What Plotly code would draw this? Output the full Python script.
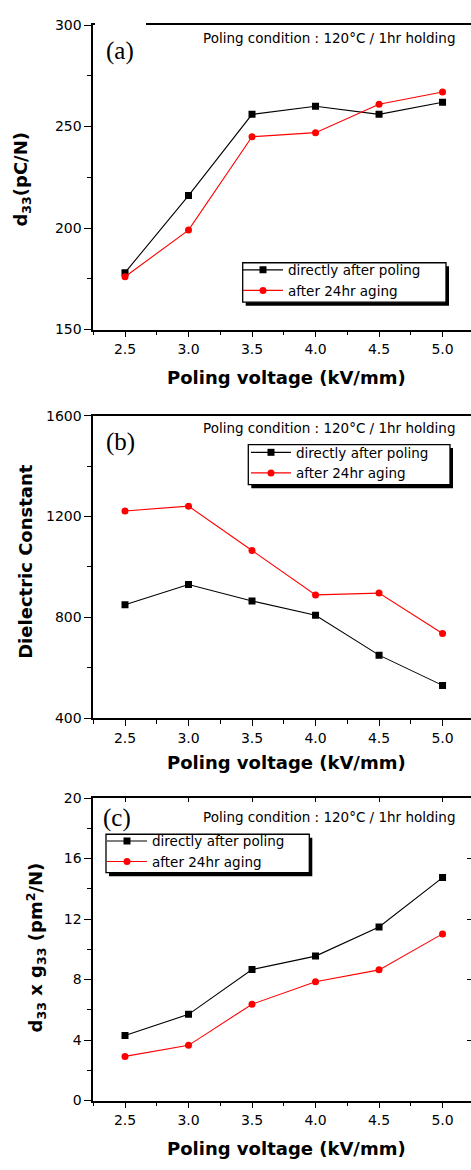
import plotly.graph_objects as go

# Poling voltage (kV/mm)
voltage = [2.5, 3.0, 3.5, 4.0, 4.5, 5.0]

# (a) piezoelectric coefficient d33 (pC/N)
d33_direct = [178, 216, 256, 260, 256, 262]
d33_aged = [176, 199, 245, 247, 261, 267]

# (b) dielectric constant
eps_direct = [850, 930, 865, 808, 650, 530]
eps_aged = [1222, 1241, 1065, 889, 896, 736]

# (c) figure of merit d33 x g33 (pm^2/N)
fom_direct = [4.30, 5.70, 8.66, 9.55, 11.48, 14.74]
fom_aged = [2.92, 3.65, 6.37, 7.85, 8.64, 11.02]

series_names = ["directly after poling", "after 24hr aging"]
panel_tags = ["(a)", "(b)", "(c)"]
condition_text = "Poling condition : 120\u00b0C / 1hr holding"
x_title = "Poling voltage (kV/mm)"
y_titles = ["d<sub>33</sub>(pC/N)", "Dielectric Constant",
            "d<sub>33</sub> x g<sub>33</sub> (pm<sup>2</sup>/N)"]
y_ranges = [[150, 300], [400, 1600], [0, 20]]
y_dticks = [50, 400, 4]

W, H = 471, 1170
SANS = "DejaVu Sans"


def px_x(p):
    return p / W


def px_y(p):
    return 1 - p / H


# plot-area boxes in pixels: (top, bottom)
boxes = [(17.3, 326.0), (413.3, 720.0), (801.0, 1107.7)]
x_left = 93.25
x_range = [2.25, 5.224]

fig = go.Figure()

datasets = [(d33_direct, d33_aged), (eps_direct, eps_aged), (fom_direct, fom_aged)]
legend_ids = ["legend", "legend2", "legend3"]
for i, (direct, aged) in enumerate(datasets):
    ax = "" if i == 0 else str(i + 1)
    fig.add_trace(go.Scatter(
        x=voltage, y=direct, name=series_names[0], mode="lines+markers",
        line=dict(color="black", width=1.1),
        marker=dict(symbol="square", size=7, color="black"),
        xaxis="x" + ax, yaxis="y" + ax, legend=legend_ids[i]))
    fig.add_trace(go.Scatter(
        x=voltage, y=aged, name=series_names[1], mode="lines+markers",
        line=dict(color="red", width=1.1),
        marker=dict(symbol="circle", size=7, color="red"),
        xaxis="x" + ax, yaxis="y" + ax, legend=legend_ids[i]))

# helper trace so the inner-tick overlay axes of panel (c) are drawn
fig.add_trace(go.Scatter(x=[None], y=[None], xaxis="x4", yaxis="y4",
                         showlegend=False, hoverinfo="skip"))

axis_font = dict(family=SANS, size=14, color="black")
layout = dict(
    width=W, height=H,
    margin=dict(l=0, r=0, t=0, b=0),
    paper_bgcolor="white", plot_bgcolor="white",
    showlegend=True,
)

for i in range(3):
    ax = "" if i == 0 else str(i + 1)
    top, bot = boxes[i]
    layout["xaxis" + ax] = dict(
        domain=[px_x(x_left), 1.0], range=x_range, anchor="y" + ax,
        tick0=2.5, dtick=0.5, tickformat=".1f",
        ticks="outside", ticklen=6, tickwidth=1.3, tickcolor="black",
        minor=dict(ticks="outside", ticklen=4, tickwidth=1.3, tickcolor="black", dtick=0.25),
        showline=True, linecolor="black", linewidth=1.6, mirror=True,
        showgrid=False, zeroline=False, tickfont=axis_font,
    )
    layout["yaxis" + ax] = dict(
        domain=[px_y(bot), px_y(top)], range=y_ranges[i], anchor="x" + ax,
        dtick=y_dticks[i], tick0=0,
        ticks="outside", ticklen=7, tickwidth=1.3, tickcolor="black",
        minor=dict(ticks="outside", ticklen=4, tickwidth=1.3, tickcolor="black",
                   dtick=y_dticks[i] / 2),
        showline=True, linecolor="black", linewidth=1.6,
        showgrid=False, zeroline=False, tickfont=axis_font,
    )

# panel (c): inward ticks on the top and right frame
top_c, bot_c = boxes[2]
layout["xaxis4"] = dict(
    domain=[px_x(x_left), 1.0], range=x_range, overlaying="x3", anchor="y3",
    side="top", tick0=2.5, dtick=0.5, ticks="inside", ticklen=4, tickwidth=1.3,
    tickcolor="black", showticklabels=False, showline=False, showgrid=False,
    zeroline=False,
)
layout["yaxis4"] = dict(
    domain=[px_y(bot_c), px_y(top_c)], range=y_ranges[2], overlaying="y3",
    anchor="x3", side="right", dtick=4, tick0=0, ticks="inside", ticklen=4,
    tickwidth=1.3, tickcolor="black", showticklabels=False, showline=False,
    showgrid=False, zeroline=False,
)

# legend frames (left, top, right, bottom) and where each legend's entries start
legend_frames = [(242.7, 258.3, 446.0, 298.3), (248.3, 442.7, 450.0, 483.3),
                 (106.0, 837.7, 309.3, 876.7)]
legend_origin = [(238.0, 250.0), (246.0, 435.0), (102.0, 829.0)]
legend_font = dict(family=SANS, size=13.5, color="black")
for i, lid in enumerate(legend_ids):
    lx, ly = legend_origin[i]
    layout[lid] = dict(
        x=px_x(lx), y=px_y(ly), xanchor="left", yanchor="top",
        bgcolor="rgba(0,0,0,0)", borderwidth=0,
        font=legend_font, tracegroupgap=0, itemwidth=40,
    )

fig.update_layout(**layout)

shapes = []
annotations = []
for i in range(3):
    # legend frame with a drop shadow
    x0, y0, x1, y1 = legend_frames[i]
    shapes.append(dict(type="rect", xref="paper", yref="paper",
                       x0=px_x(x0 + 3), x1=px_x(x1 + 3), y0=px_y(y1 + 3.5), y1=px_y(y0 + 3.5),
                       fillcolor="black", line=dict(width=0), layer="above"))
    shapes.append(dict(type="rect", xref="paper", yref="paper",
                       x0=px_x(x0), x1=px_x(x1), y0=px_y(y1), y1=px_y(y0),
                       fillcolor="white", line=dict(color="black", width=1.3), layer="above"))
    # x-axis title
    annotations.append(dict(text=x_title, xref="paper", yref="paper",
                            x=px_x(286.5), y=px_y([374.3, 764.7, 1156.7][i]),
                            xanchor="center", yanchor="middle", showarrow=False,
                            font=dict(family=SANS, size=18, color="black", weight="bold")))
    # y-axis title
    annotations.append(dict(text="<b>" + y_titles[i] + "</b>", xref="paper", yref="paper",
                            x=px_x([22, 26, 36][i]), y=px_y([174, 561.5, 952.5][i]),
                            textangle=-90, xanchor="center", yanchor="middle", showarrow=False,
                            font=dict(family=SANS, size=18, color="black")))
    # panel tag
    annotations.append(dict(text=panel_tags[i], xref="paper", yref="paper",
                            x=px_x([120, 120, 117][i]), y=px_y([43.3, 440, 821.7][i]),
                            xanchor="center", yanchor="middle", showarrow=False,
                            font=dict(family="Liberation Serif", size=25, color="black")))
    # poling condition note
    annotations.append(dict(text=condition_text, xref="paper", yref="paper",
                            x=px_x(457), y=px_y([30.5, 425.8, 820][i]),
                            xanchor="right", yanchor="middle", showarrow=False,
                            font=dict(family=SANS, size=13.5, color="black")))

# gap in the top frame line of panel (a)
shapes.append(dict(type="rect", xref="paper", yref="paper",
                   x0=px_x(95), x1=px_x(146), y0=px_y(20), y1=px_y(15),
                   fillcolor="white", line=dict(width=0), layer="above"))

fig.update_layout(shapes=shapes, annotations=annotations)
fig.write_html("out.html")
